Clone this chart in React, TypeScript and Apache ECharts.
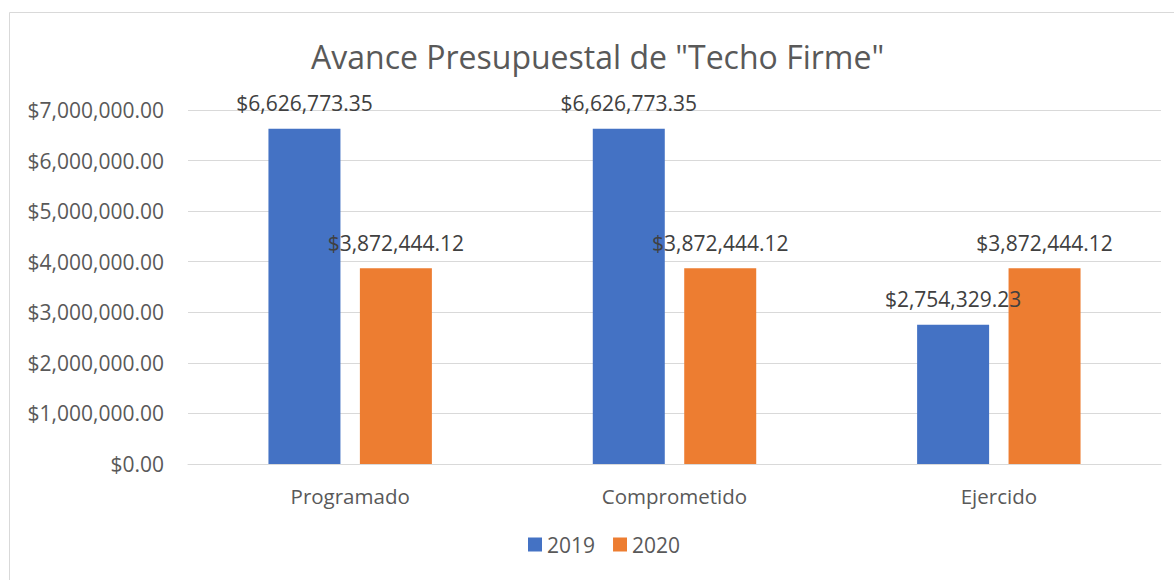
import React, { useEffect, useRef } from "react";
import * as echarts from "echarts";

const categories = ["Programado", "Comprometido", "Ejercido"];
const values2019 = [6626773.35, 6626773.35, 2754329.23];
const values2020 = [3872444.12, 3872444.12, 3872444.12];
const seriesNames = ["2019", "2020"];
const titleText = 'Avance Presupuestal de "Techo Firme"';

const FONT = "'Open Sans', 'Noto Sans', sans-serif";
const TEXT = "#595959";

const money = (v: number) =>
  "$" + v.toLocaleString("en-US", { minimumFractionDigits: 2, maximumFractionDigits: 2 });

export default function App() {
  const ref = useRef<HTMLDivElement>(null);
  useEffect(() => {
    if (!ref.current) return;
    const chart = echarts.init(ref.current, null, { renderer: "svg" });
    const label = {
      show: true,
      position: "top" as const,
      distance: 15,
      fontFamily: FONT,
      fontSize: 21,
      color: "#404040",
      formatter: (p: any) => money(p.value),
    };
    chart.setOption({
      animation: false,
      backgroundColor: "#ffffff",
      title: {
        text: titleText,
        left: 306,
        top: 35,
        textStyle: { fontFamily: FONT, fontSize: 32, fontWeight: "normal", color: TEXT },
      },
      graphic: [
        {
          type: "rect",
          shape: { x: 9.5, y: 12.5, width: 1300, height: 700 },
          style: { fill: "none", stroke: "#d9d9d9", lineWidth: 1 },
          silent: true,
        },
      ],
      legend: {
        data: seriesNames,
        bottom: 20,
        left: 523,
        icon: "rect",
        itemWidth: 14,
        itemHeight: 14,
        itemGap: 18,
        textStyle: { fontFamily: FONT, fontSize: 21, color: TEXT, padding: [0, 0, 0, 0] },
      },
      grid: { left: 188, right: 13, top: 110, bottom: 116, containLabel: false },
      xAxis: {
        type: "category",
        data: categories,
        axisLine: { lineStyle: { color: "#d9d9d9", width: 1 } },
        axisTick: { show: false },
        axisLabel: { fontFamily: FONT, fontSize: 20.5, color: TEXT, margin: 21 },
      },
      yAxis: {
        type: "value",
        min: 0,
        max: 7000000,
        interval: 1000000,
        axisLine: { show: false },
        axisTick: { show: false },
        splitLine: { lineStyle: { color: "#d9d9d9", width: 1 } },
        axisLabel: {
          fontFamily: FONT,
          fontSize: 21,
          color: TEXT,
          margin: 24,
          formatter: (v: number) => money(v),
        },
      },
      series: [
        {
          name: seriesNames[0],
          type: "bar",
          data: values2019,
          barWidth: 72,
          barGap: "27%",
          itemStyle: { color: "#4472C4" },
          label,
        },
        {
          name: seriesNames[1],
          type: "bar",
          data: values2020,
          barWidth: 72,
          barGap: "27%",
          itemStyle: { color: "#ED7D31" },
          label,
        },
      ],
    });
    return () => chart.dispose();
  }, []);
  return (
    <div
      ref={ref}
      style={{ position: "fixed", left: 0, top: 0, width: 1174, height: 580, background: "#fff" }}
    />
  );
}
